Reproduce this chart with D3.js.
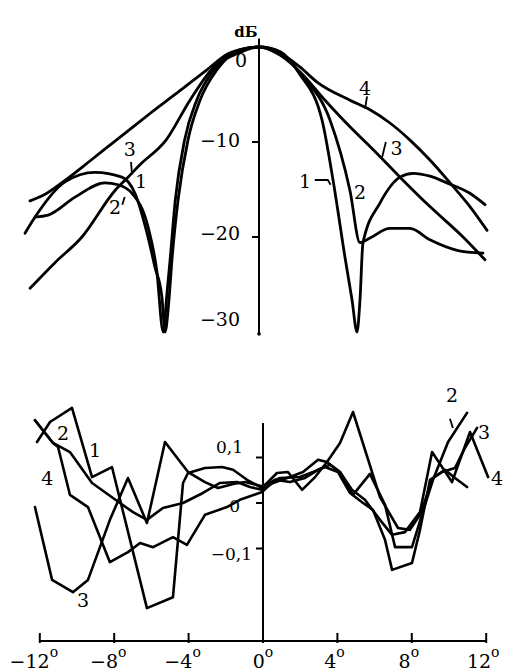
<!DOCTYPE html>
<html>
<head>
<meta charset="utf-8">
<script src="https://cdn.jsdelivr.net/npm/d3@7"></script>
<style>
  html, body { margin: 0; padding: 0; background: #fff; }
  text { font-family: "DejaVu Serif", "Liberation Serif", serif; fill: #000; }
</style>
</head>
<body>
<svg id="chart" width="513" height="672"></svg>
<script>
// ---------- Upper panel: normalized patterns, dB versus angle (degrees) ----------
const topAngles1 = [-12.58,-12.04,-10.43,-8.82,-7.37,-6.67,-6.02,-5.59,-5.22,-5.05,-4.84,-4.68,-4.35,-3.82,-3.17,-2.26,-1.02,0,1.13,2.2,3.39,3.98,4.62,5.0,5.27,5.43,5.59,6.51,7.58,8.28,9.19,10.1,11.34,12.15];
const topDb1     = [-19.6,-17.9,-14.2,-13.2,-13.7,-15.4,-19.6,-23.2,-26.3,-30,-26.6,-22.4,-16.1,-9.8,-5.6,-2.4,-0.3,0,-0.5,-2.9,-7.7,-14.0,-22.1,-26.6,-30,-26.6,-20.6,-16.4,-13.7,-13.3,-13.6,-14.3,-15.4,-16.6];

const topAngles2 = [-12.04,-11.34,-9.89,-8.28,-7.58,-6.83,-5.97,-5.5,-5.15,-4.95,-4.78,-4.5,-4.0,-3.35,-2.42,-1.1,0,1.13,2.2,3.82,4.89,5.43,5.97,7.04,8.12,9.19,10.65,12.04];
const topDb2     = [-17.9,-17.7,-15.8,-14.3,-14.5,-15.4,-18.9,-23.5,-30,-26,-22.4,-16.1,-9.8,-5.6,-2.4,-0.35,0,-0.5,-2.8,-7.7,-15.1,-20.6,-20.1,-19.1,-19.1,-20.3,-21.4,-21.7];

const topAngles3 = [-12.31,-10.97,-9.52,-7.74,-7.04,-6.40,-5.0,-3.71,-2.47,-1.29,0,1.13,2.2,3.55,4.89,6.13,7.58,9.19,10.97,12.15];
const topDb3     = [-25.4,-22.7,-20.0,-15.1,-13.7,-12.4,-9.8,-5.6,-2.2,-0.8,0,-0.85,-2.6,-5.6,-8.4,-10.8,-13.7,-16.8,-20.0,-22.4];

const topAngles4 = [-12.31,-11.5,-10.54,-9.09,-7.74,-6.77,-5.86,-4.25,-2.80,-1.56,0,1.29,2.2,3.12,4.89,5.97,7.04,8.12,9.19,10.27,11.34,12.26];
const topDb4     = [-16.2,-15.5,-14.2,-12.0,-9.9,-8.4,-7.0,-4.6,-2.4,-0.6,0,-0.8,-2.1,-3.7,-5.6,-6.6,-8.0,-9.8,-11.9,-14.3,-16.8,-19.3];

const topTickValues = [0, -10, -20, -30];
const topTickLabels = ["0", "\u221210", "\u221220", "\u221230"];
const topUnit = "dБ";

// ---------- Lower panel: deviation versus angle ----------
const botAngles1 = [-12.15,-11.45,-10.27,-9.19,-8.12,-6.24,-4.84,-4.30,-4.03,-3.12,-2.20,-1.61,-0.86,-0.05,0.75,1.34,2.10,2.80,3.44,4.14,4.84,6.29,7.26,7.90,8.44,9.14,9.78,10.32,10.97];
const botValues1 = [0.134,0.178,0.209,0.057,0.079,-0.231,-0.207,0.044,0.066,0.077,0.079,0.073,0.051,0.033,0.066,0.068,0.029,0.057,0.090,0.132,0.200,0.013,-0.055,-0.059,-0.026,0.055,0.073,0.055,0.035];

const botAngles2 = [-12.26,-11.29,-10.38,-9.19,-7.69,-6.99,-6.24,-5.38,-4.30,-3.23,-2.31,-1.40,-0.70,-0.05,0.54,1.45,2.15,2.96,3.44,4.14,4.84,5.75,6.56,7.10,8.01,8.71,9.14,9.95,10.97];
const botValues2 = [0.182,0.132,0.112,0.044,0.0,-0.020,-0.037,-0.011,0.0,0.022,0.044,0.046,0.035,0.029,0.044,0.057,0.068,0.095,0.090,0.068,0.018,0.064,-0.004,-0.097,-0.097,-0.004,0.051,0.134,0.198];

const botAngles3 = [-12.26,-11.34,-10.22,-9.41,-8.23,-7.26,-6.24,-5.27,-4.03,-3.12,-2.42,-1.61,-0.97,-0.05,0.91,1.99,2.69,3.33,4.03,4.68,5.38,5.91,6.56,6.94,8.01,8.44,8.98,9.62,10.32,10.86,11.51];
const botValues3 = [-0.009,-0.169,-0.196,-0.169,-0.037,0.055,-0.044,0.134,0.068,0.046,0.033,0.042,0.046,0.037,0.055,0.057,0.068,0.079,0.068,0.022,0.0,-0.015,-0.081,-0.147,-0.132,-0.059,0.051,0.068,0.077,0.121,0.165];

const botAngles4 = [-12.26,-11.29,-11.02,-10.38,-9.41,-8.23,-7.26,-6.61,-5.91,-4.84,-4.09,-3.12,-1.94,-1.24,-0.05,0.65,1.45,2.26,2.96,3.60,4.14,4.78,5.48,6.29,6.94,7.63,8.44,9.09,10.16,11.13,12.10];
const botValues4 = [0.182,0.132,0.123,0.018,-0.009,-0.130,-0.108,-0.088,-0.097,-0.075,-0.092,-0.026,-0.009,0.007,0.024,0.051,0.046,0.055,0.073,0.084,0.068,0.029,0.007,-0.037,-0.070,-0.064,-0.020,0.112,0.046,0.156,0.057];

const botYTickValues = [0.1, 0, -0.1];
const botYTickLabels = ["0,1", "0", "\u22120,1"];
const angleTickValues = [-12, -8, -4, 0, 4, 8, 12];
const angleTickLabels = ["\u221212", "\u22128", "\u22124", "0", "4", "8", "12"];

// Curve number labels: [label, angle, value]
const topCurveLabels = [["3",-6.94,-10.8],["1",-6.34,-14.1],["2",-7.74,-16.9],["4",5.70,-4.3],["3",7.4,-10.6],["1",2.47,-14.1],["2",5.43,-15.3]];
const botCurveLabels = [["2",-10.75,0.154],["1",-9.03,0.116],["4",-11.6,0.055],["3",-9.68,-0.213],["2",10.16,0.237],["3",11.88,0.156],["4",12.58,0.055]];

// ---------- Drawing ----------
const svg = d3.select("#chart");
const pxPerDeg = 18.6;

const xTop = d3.scaleLinear().domain([-12, 12]).range([259 - 12 * pxPerDeg, 259 + 12 * pxPerDeg]);
const yTop = d3.scaleLinear().domain([0, -30]).range([47, 332]);
const xBot = d3.scaleLinear().domain([-12, 12]).range([263 - 12 * pxPerDeg, 263 + 12 * pxPerDeg]);
const yBot = d3.scaleLinear().domain([0.1, -0.1]).range([457.5, 548.5]);

const zip = (a, b) => a.map((v, i) => [v, b[i]]);

// Upper panel axis
const gTop = svg.append("g");
gTop.append("line")
  .attr("x1", xTop(0)).attr("x2", xTop(0))
  .attr("y1", yTop(0.9)).attr("y2", yTop(-30.2))
  .attr("stroke", "#000").attr("stroke-width", 2);
gTop.append("circle").attr("cx", xTop(0)).attr("cy", yTop(-30.2)).attr("r", 1.8);
gTop.selectAll("line.tick").data([-10, -20]).join("line")
  .attr("class", "tick")
  .attr("x1", xTop(0) - 7).attr("x2", xTop(0))
  .attr("y1", d => yTop(d)).attr("y2", d => yTop(d))
  .attr("stroke", "#000").attr("stroke-width", 2);
const topLabelNudge = [13, -2, -4, -13];
gTop.selectAll("text.tl").data(topTickValues).join("text")
  .attr("class", "tl")
  .attr("x", (d, i) => i === 0 ? xTop(0) - 12 : xTop(0) - 19)
  .attr("y", (d, i) => yTop(d) + topLabelNudge[i])
  .attr("dy", "0.36em")
  .attr("text-anchor", "end")
  .attr("font-size", 19)
  .text((d, i) => topTickLabels[i]);
gTop.append("text")
  .attr("x", xTop(0) - 13).attr("y", yTop(0) - 10)
  .attr("text-anchor", "middle")
  .attr("font-size", 15).attr("font-weight", "bold")
  .attr("font-family", "DejaVu Sans")
  .text(topUnit);

const lineTop = d3.line().x(d => xTop(d[0])).y(d => yTop(d[1])).curve(d3.curveMonotoneX);
[[topAngles1, topDb1], [topAngles2, topDb2], [topAngles3, topDb3], [topAngles4, topDb4]].forEach(([a, v]) => {
  gTop.append("path")
    .attr("d", lineTop(zip(a, v)))
    .attr("fill", "none").attr("stroke", "#000")
    .attr("stroke-width", 2.8).attr("stroke-linejoin", "round").attr("stroke-linecap", "round");
});

gTop.selectAll("text.cl").data(topCurveLabels).join("text")
  .attr("class", "cl")
  .attr("x", d => xTop(d[1])).attr("y", d => yTop(d[2]))
  .attr("dy", "0.36em").attr("text-anchor", "middle")
  .attr("font-size", 19)
  .text(d => d[0]);

// small leader strokes beside the curve numbers
const topLeaders = [
  [[5.81, -5.2], [5.70, -6.5]],
  [[6.62, -11.6], [6.82, -10.0]],
  [[3.0, -14.0], [3.7, -14.0], [3.85, -14.5]],
  [[-6.88, -12.1], [-6.83, -13.4]],
  [[-7.22, -15.8], [-7.35, -16.6]]
];
const leaderTop = d3.line().x(d => xTop(d[0])).y(d => yTop(d[1]));
topLeaders.forEach(p => {
  gTop.append("path").attr("d", leaderTop(p))
    .attr("fill", "none").attr("stroke", "#000").attr("stroke-width", 1.8);
});

// Lower panel axes
const gBot = svg.append("g");
const axisY = 641;
gBot.append("line")
  .attr("x1", xBot(-12)).attr("x2", xBot(12))
  .attr("y1", axisY).attr("y2", axisY)
  .attr("stroke", "#000").attr("stroke-width", 2);
gBot.selectAll("line.xt").data(angleTickValues).join("line")
  .attr("class", "xt")
  .attr("x1", d => xBot(d)).attr("x2", d => xBot(d))
  .attr("y1", axisY - 8).attr("y2", axisY + 2)
  .attr("stroke", "#000").attr("stroke-width", 2);
const xl = gBot.selectAll("text.xl").data(angleTickValues).join("text")
  .attr("class", "xl")
  .attr("x", d => xBot(d) - (d < 0 ? 6 : d === 0 ? 0 : 3))
  .attr("y", 668)
  .attr("text-anchor", "middle")
  .attr("font-size", 19);
xl.append("tspan").text((d, i) => angleTickLabels[i]);
xl.append("tspan").attr("dy", -11).attr("font-size", 14).text("o");

gBot.append("line")
  .attr("x1", xBot(0)).attr("x2", xBot(0))
  .attr("y1", yBot(0.176)).attr("y2", axisY)
  .attr("stroke", "#000").attr("stroke-width", 2);
gBot.selectAll("line.yt").data(botYTickValues).join("line")
  .attr("class", "yt")
  .attr("x1", xBot(0) - 7).attr("x2", xBot(0))
  .attr("y1", d => yBot(d)).attr("y2", d => yBot(d))
  .attr("stroke", "#000").attr("stroke-width", 2);
const botLabelNudge = [[-20, -11], [-23, 3], [-11, 5]];
gBot.selectAll("text.yl").data(botYTickValues).join("text")
  .attr("class", "yl")
  .attr("x", (d, i) => xBot(0) + botLabelNudge[i][0])
  .attr("y", (d, i) => yBot(d) + botLabelNudge[i][1])
  .attr("dy", "0.36em")
  .attr("text-anchor", "end")
  .attr("font-size", 17)
  .text((d, i) => botYTickLabels[i]);

const lineBot = d3.line().x(d => xBot(d[0])).y(d => yBot(d[1]));
[[botAngles1, botValues1], [botAngles2, botValues2], [botAngles3, botValues3], [botAngles4, botValues4]].forEach(([a, v]) => {
  gBot.append("path")
    .attr("d", lineBot(zip(a, v)))
    .attr("fill", "none").attr("stroke", "#000")
    .attr("stroke-width", 2.6).attr("stroke-linejoin", "round").attr("stroke-linecap", "round");
});

gBot.selectAll("text.cl").data(botCurveLabels).join("text")
  .attr("class", "cl")
  .attr("x", d => xBot(d[1])).attr("y", d => yBot(d[2]))
  .attr("dy", "0.36em").attr("text-anchor", "middle")
  .attr("font-size", 19)
  .text(d => d[0]);
gBot.append("path")
  .attr("d", lineBot([[10.05, 0.185], [10.21, 0.165]]))
  .attr("fill", "none").attr("stroke", "#000").attr("stroke-width", 1.8);
</script>
</body>
</html>
